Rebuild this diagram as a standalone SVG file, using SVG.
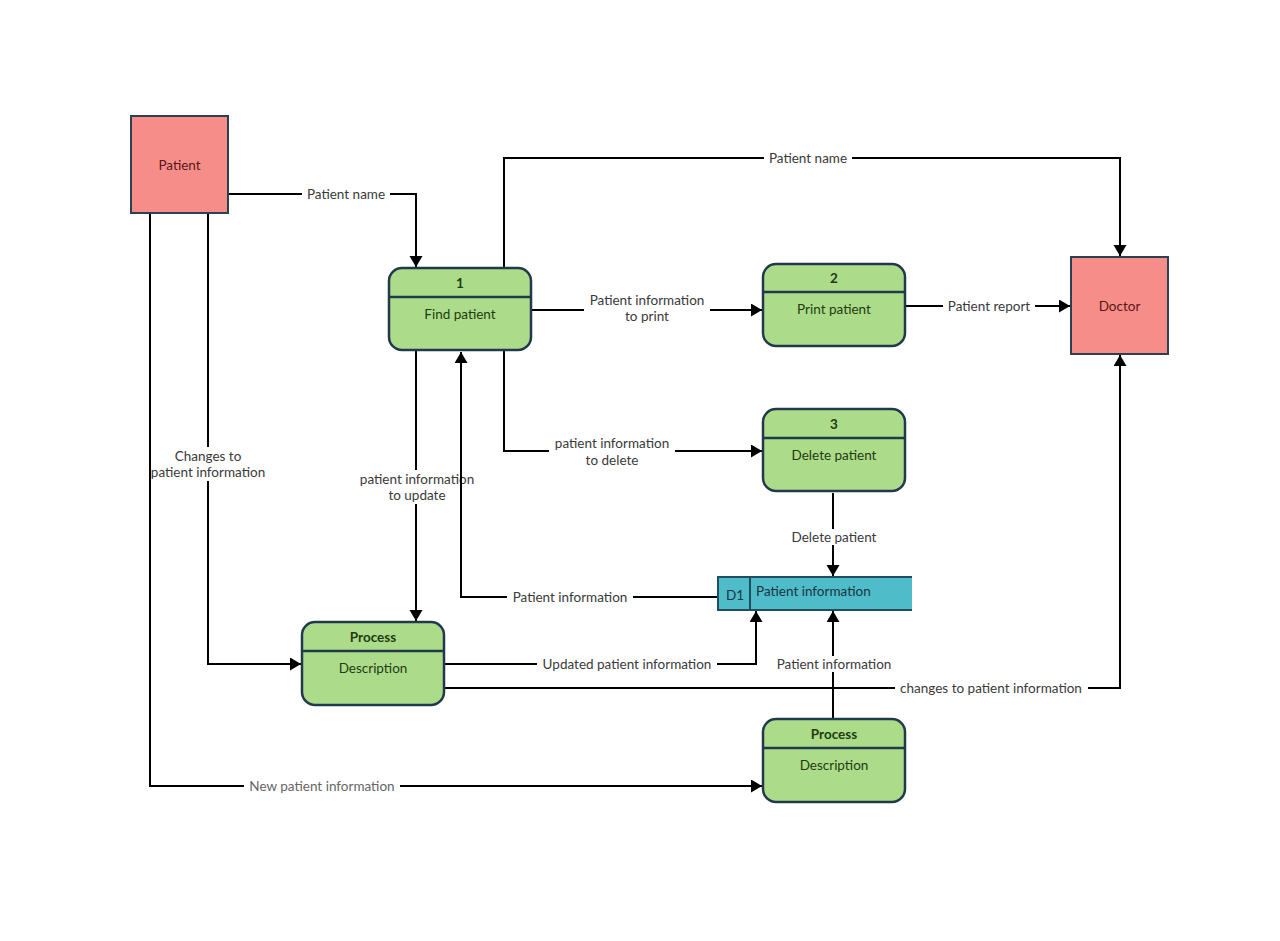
<svg xmlns="http://www.w3.org/2000/svg" width="1280" height="941" viewBox="0 0 1280 941">
<style>
text{font-family:Lato,"Open Sans","Liberation Sans",sans-serif;font-size:13.5px;text-anchor:middle;dominant-baseline:central}
.ent{fill:#F68D89;stroke:#2E4050;stroke-width:2}
.ent-t{fill:#5A1616}
.proc{fill:#ACDC8A;stroke:#22394C;stroke-width:2.5}
.div{stroke:#22394C;stroke-width:2.5}
.pt{fill:#1F3B10}
.b{font-weight:bold}
.c{fill:none;stroke:#000;stroke-width:2;marker-end:url(#ah)}
.bg{fill:#fff}
.lbl{fill:#3a3a3a}
.ds{fill:#4FBCCA}
.dsl{stroke:#1F4E63;stroke-width:2;fill:none}
</style>
<defs>
<marker id="ah" markerUnits="userSpaceOnUse" markerWidth="12" markerHeight="14" refX="11" refY="6.5" orient="auto">
<path d="M0,0 L11,6.5 L0,13 z" fill="#000"/>
</marker>
</defs>
<rect width="1280" height="941" fill="#fff"/>
<g id="connectors">
<path class="c" d="M228,194 H416 V267"/>
<rect class="bg" x="302" y="186" width="88" height="16"/>
<text class="lbl" x="346" y="194">Patient name</text>

<path class="c" d="M504,268 V158 H1120 V256"/>
<rect class="bg" x="764" y="150" width="88" height="16"/>
<text class="lbl" x="808" y="158">Patient name</text>

<path class="c" d="M531,310 H762"/>
<rect class="bg" x="584" y="291" width="126" height="34"/>
<text class="lbl" x="647" y="300">Patient information</text>
<text class="lbl" x="647" y="316">to print</text>

<path class="c" d="M905,306 H1070"/>
<rect class="bg" x="943" y="298" width="92" height="16"/>
<text class="lbl" x="989" y="306">Patient report</text>

<path class="c" d="M504,351 V451 H762"/>
<rect class="bg" x="549" y="434" width="126" height="35"/>
<text class="lbl" x="612" y="443">patient information</text>
<text class="lbl" x="612" y="460">to delete</text>

<path class="c" d="M416,351 V621"/>
<rect class="bg" x="354" y="470" width="126" height="34"/>
<text class="lbl" x="417" y="479">patient information</text>
<text class="lbl" x="417" y="495">to update</text>

<path class="c" d="M718,597 H461 V352"/>
<rect class="bg" x="507" y="589" width="126" height="16"/>
<text class="lbl" x="570" y="597">Patient information</text>

<path class="c" d="M833,493 V576"/>
<rect class="bg" x="788" y="529" width="92" height="16"/>
<text class="lbl" x="834" y="537">Delete patient</text>

<path class="c" d="M208,213 V664 H301"/>
<rect class="bg" x="148" y="447" width="122" height="34"/>
<text class="lbl" x="208" y="456">Changes to</text>
<text class="lbl" x="208" y="472">patient information</text>

<path class="c" d="M444,664 H756 V611"/>
<rect class="bg" x="537" y="656" width="180" height="16"/>
<text class="lbl" x="627" y="664">Updated patient information</text>

<path class="c" d="M444,688 H1120 V355"/>
<rect class="bg" x="895" y="680" width="193" height="16"/>
<text class="lbl" x="991" y="688">changes to patient information</text>

<path class="c" d="M833,719 V611"/>
<rect class="bg" x="771" y="656" width="126" height="16"/>
<text class="lbl" x="834" y="664">Patient information</text>

<path class="c" d="M150,213 V786 H762"/>
<rect class="bg" x="244" y="778" width="156" height="16"/>
<text class="lbl" x="322" y="786" style="fill:#666">New patient information</text>
</g>
<g id="patient">
<rect class="ent" x="131" y="116" width="97" height="97"/>
<text class="ent-t" x="179.5" y="165">Patient</text>
</g>
<g id="doctor">
<rect class="ent" x="1071" y="257" width="97" height="97"/>
<text class="ent-t" x="1119.5" y="306">Doctor</text>
</g>
<g id="p1">
<rect class="proc" x="389" y="268" width="142" height="82" rx="13"/>
<line class="div" x1="389" y1="297" x2="531" y2="297"/>
<text class="pt b" x="460" y="283">1</text>
<text class="pt" x="460" y="314">Find patient</text>
</g>
<g id="p2">
<rect class="proc" x="763" y="264" width="142" height="82" rx="13"/>
<line class="div" x1="763" y1="292" x2="905" y2="292"/>
<text class="pt b" x="834" y="278">2</text>
<text class="pt" x="834" y="309">Print patient</text>
</g>
<g id="p3">
<rect class="proc" x="763" y="409" width="142" height="82" rx="13"/>
<line class="div" x1="763" y1="438" x2="905" y2="438"/>
<text class="pt b" x="834" y="424">3</text>
<text class="pt" x="834" y="455">Delete patient</text>
</g>
<g id="p4">
<rect class="proc" x="302" y="622" width="142" height="83" rx="13"/>
<line class="div" x1="302" y1="651" x2="444" y2="651"/>
<text class="pt b" x="373" y="637">Process</text>
<text class="pt" x="373" y="668">Description</text>
</g>
<g id="p5">
<rect class="proc" x="763" y="719" width="142" height="83" rx="13"/>
<line class="div" x1="763" y1="748" x2="905" y2="748"/>
<text class="pt b" x="834" y="734">Process</text>
<text class="pt" x="834" y="765">Description</text>
</g>
<g id="d1">
<rect class="ds" x="718" y="577" width="194" height="33"/>
<path class="dsl" d="M912,577 H718 V610 H912 M750,577 V610"/>
<text x="735" y="595" fill="#1B3340">D1</text>
<text x="756" y="591" fill="#1B3340" style="text-anchor:start">Patient information</text>
</g>
</svg>
